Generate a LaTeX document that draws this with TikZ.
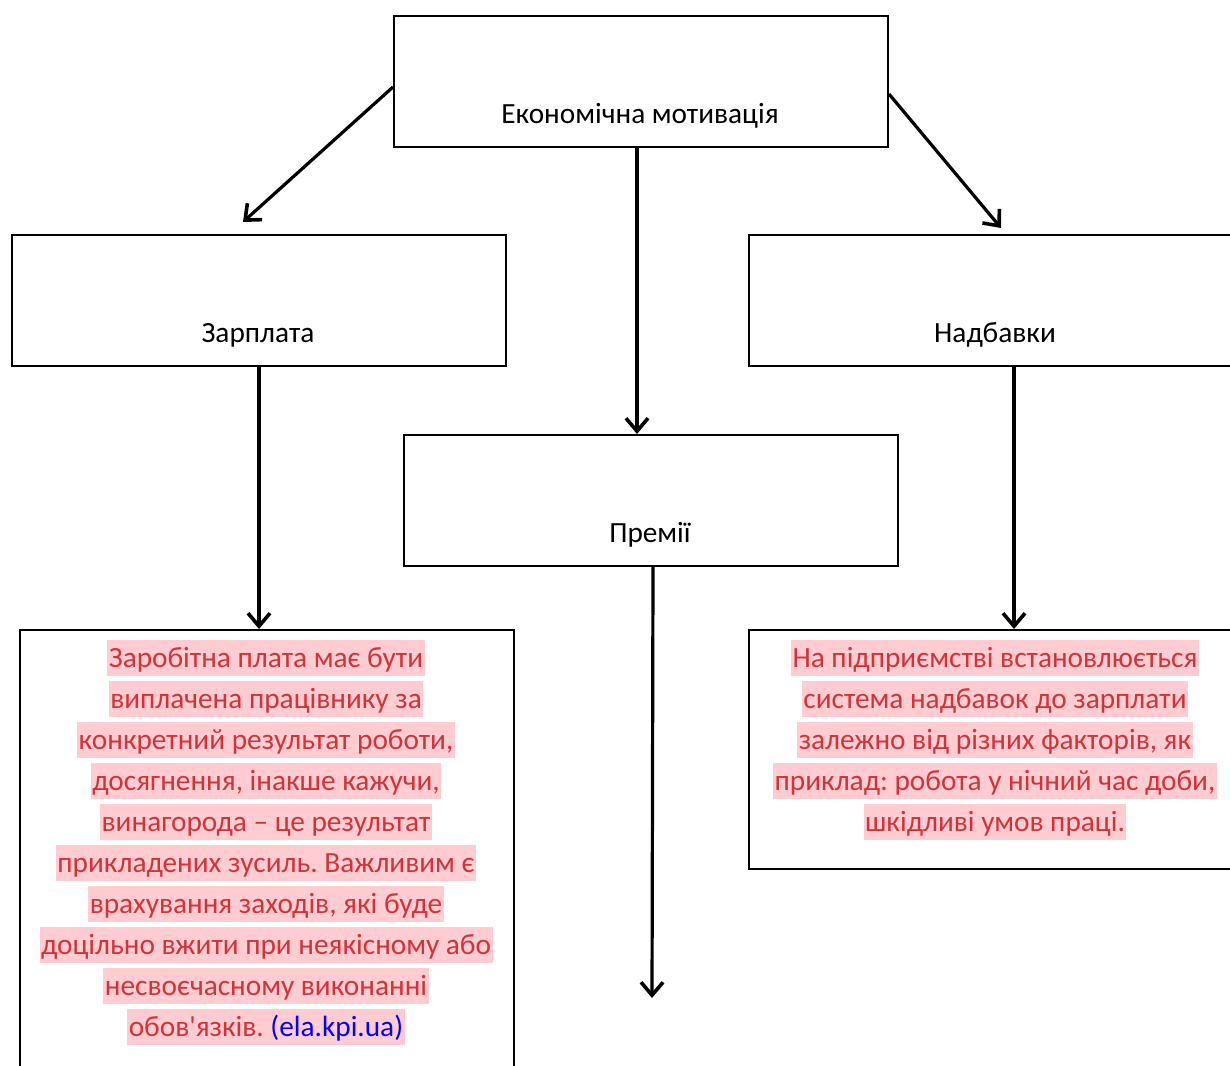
\documentclass[tikz,border=0pt]{standalone}
\usepackage{fontspec}
\setmainfont{Carlito}[Ligatures=TeXOff]
\usetikzlibrary{arrows.meta,calc}
\definecolor{txtred}{RGB}{209,52,56}
\definecolor{hlpink}{RGB}{255,204,210}
\definecolor{linkblue}{RGB}{0,0,255}
\frenchspacing
\begin{document}
\begin{tikzpicture}[x=1pt,y=-1pt,
  box/.style={draw,line width=2pt,minimum width=494pt,minimum height=131pt,inner sep=0pt,anchor=north west},
  tall/.style={minimum height=#1},
  lbl/.style={anchor=base,inner sep=0pt,font=\fontsize{29.3}{36}\selectfont},
  hl/.style={fill=hlpink,text=txtred,inner xsep=1.5pt,inner ysep=0pt,text height=27pt,text depth=9pt,anchor=north,font=\fontsize{29.3}{36}\selectfont},
  arr/.style={line width=3.2pt,-{Straight Barb[length=13pt,width=22pt,line width=3.6pt]}}]
\clip (0,0) rectangle (1230,1065);
\fill[white] (0,0) rectangle (1230,1065);
% boxes
\node[box] (top) at (393,15) {};
\node[box] (zar) at (11,234) {};
\node[box] (nad) at (748,234) {};
\node[box] (prem) at (403,434) {};
\node[box,tall=500pt] (lt) at (19,629) {};
\node[box,tall=239pt] (rt) at (748,629) {};
% labels
\node[lbl] (ttop) at (640,123) {Економічна мотивація};
\node[lbl] (tzar) at (258,342) {Зарплата};
\node[lbl] (tnad) at (995,342) {Надбавки};
\node[lbl] (tprem) at (650,542) {Премії};
% left text
\node[hl] (l1) at (266,640) {Заробітна плата має бути};
\node[hl] (l2) at (266,681) {виплачена працівнику за};
\node[hl] (l3) at (266,722) {конкретний результат роботи,};
\node[hl] (l4) at (266,763) {досягнення, інакше кажучи,};
\node[hl] (l5) at (266,804) {винагорода – це результат};
\node[hl] (l6) at (266,845) {прикладених зусиль. Важливим є};
\node[hl] (l7) at (266,886) {врахування заходів, які буде};
\node[hl] (l8) at (266,927) {доцільно вжити при неякісному або};
\node[hl] (l9) at (266,968) {несвоєчасному виконанні};
\node[hl] (l10) at (266,1009) {обов'язків. \textcolor{linkblue}{(ela.kpi.ua)}};
% right text
\node[hl] (r1) at (995,640) {На підприємстві встановлюється};
\node[hl] (r2) at (995,681) {система надбавок до зарплати};
\node[hl] (r3) at (995,722) {залежно від різних факторів, як};
\node[hl] (r4) at (995,763) {приклад: робота у нічний час доби,};
\node[hl] (r5) at (995,804) {шкідливі умов праці.};
% connectors
\coordinate (a1e) at (243,222);
\coordinate (a2e) at (1001,228);
\coordinate (pe) at (652,998);
\coordinate (ts) at ([xshift=-4pt]top.south);
\coordinate (ns) at ([xshift=18pt]nad.south);
\coordinate (ps) at ([xshift=2pt]prem.south);
\draw[arr] ([yshift=-5.5pt]top.west) -- (a1e);
\draw[arr] ([yshift=-12.5pt]top.east) -- (a2e);
\draw[arr] (ts) -- (ts |- prem.north);
\draw[arr] (zar.south) -- (zar.south |- lt.north);
\draw[arr] (ns) -- (ns |- rt.north);
\draw[arr] (ps) -- (pe);
\end{tikzpicture}
\end{document}
